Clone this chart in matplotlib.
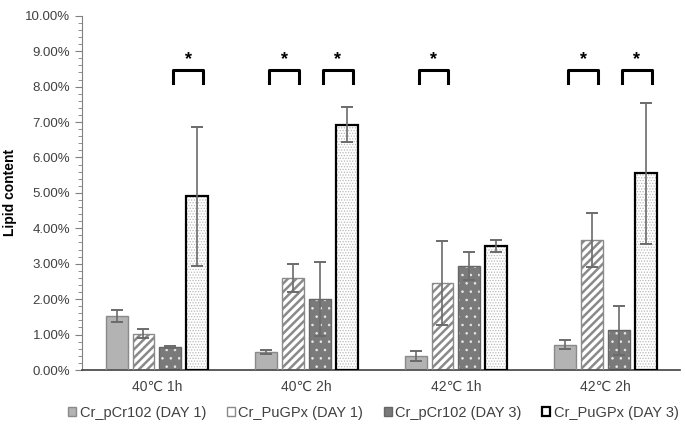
import numpy as np
import matplotlib.pyplot as plt
from matplotlib.ticker import MultipleLocator, FuncFormatter

plt.rcParams['font.family'] = ['Liberation Sans', 'DejaVu Sans']

groups = ["40\u2103 1h", "40\u2103 2h", "42\u2103 1h", "42\u2103 2h"]
series = ["Cr_pCr102 (DAY 1)", "Cr_PuGPx (DAY 1)", "Cr_pCr102 (DAY 3)", "Cr_PuGPx (DAY 3)"]

# lipid content in %
pcr102_d1 = [1.52, 0.50, 0.40, 0.72]
pugpx_d1 = [1.02, 2.60, 2.45, 3.67]
pcr102_d3 = [0.65, 2.00, 2.93, 1.12]
pugpx_d3 = [4.90, 6.93, 3.50, 5.55]

err_pcr102_d1 = [0.17, 0.06, 0.15, 0.12]
err_pugpx_d1 = [0.13, 0.40, 1.18, 0.77]
err_pcr102_d3 = [0.04, 1.05, 0.40, 0.70]
err_pugpx_d3 = [1.95, 0.50, 0.18, 2.00]

# significance brackets: (group, bar a, bar b)
signif = [(0, 2, 3), (1, 0, 1), (1, 2, 3), (2, 0, 1), (3, 0, 1), (3, 2, 3)]

values = [pcr102_d1, pugpx_d1, pcr102_d3, pugpx_d3]
errors = [err_pcr102_d1, err_pugpx_d1, err_pcr102_d3, err_pugpx_d3]

fig = plt.figure(figsize=(6.85, 4.32), dpi=100)
ax = fig.add_axes([0.12, 0.1435, 0.873, 0.82])

x = np.arange(len(groups))
step = 0.18
w = 0.147
offs = (np.arange(4) - 1.5) * step

styles = [
    dict(face="#b3b3b3", hatch=None, hcol="#b3b3b3", hlw=1.0, edge="#8a8a8a", lw=1.0),
    dict(face="white", hatch="////", hcol="#8a8a8a", hlw=1.8, edge="#8a8a8a", lw=1.0),
    dict(face="#7a7a7a", hatch="..", hcol="#e8e8e8", hlw=0.6, edge="#666666", lw=1.0),
    dict(face="white", hatch="......", hcol="#b8b8b8", hlw=0.6, edge="black", lw=1.6),
]

handles = []
for i in range(4):
    s = styles[i]
    pos = x + offs[i]
    with plt.rc_context({"hatch.linewidth": s["hlw"]}):
        ax.bar(pos, values[i], w, color=s["face"], edgecolor=s["hcol"],
               hatch=s["hatch"], linewidth=0, zorder=2)
        ax.bar(pos, values[i], w, facecolor="none", edgecolor=s["edge"],
               linewidth=s["lw"], zorder=3)
        ax.errorbar(pos, values[i], yerr=errors[i], fmt="none", ecolor="#6b6b6b",
                    elinewidth=1.2, capsize=4, capthick=1.4, zorder=4)
        h = plt.Rectangle((0, 0), 1, 1, facecolor=s["face"], edgecolor=s["edge"],
                          linewidth=s["lw"])
    handles.append(h)

for g, a, b in signif:
    xa = x[g] + offs[a] + 0.02
    xb = x[g] + offs[b] + 0.04
    ax.plot([xa, xa, xb, xb], [8.1, 8.47, 8.47, 8.1], color="black", lw=2.2,
            solid_joinstyle="round", zorder=5)
    ax.text((xa + xb) / 2, 8.75, "*", ha="center", va="center", fontsize=13,
            fontweight="bold")

ax.set_xlim(-0.5, 3.5)
ax.set_ylim(0, 10)
ax.yaxis.set_major_locator(MultipleLocator(1))
ax.yaxis.set_minor_locator(MultipleLocator(0.2))
ax.yaxis.set_major_formatter(FuncFormatter(lambda v, p: f"{v:.2f}%"))
ax.set_xticks(x)
ax.set_xticklabels(groups)
ax.tick_params(axis="x", length=0, labelsize=10, labelcolor="#404040", pad=7)
ax.tick_params(axis="y", which="major", length=5, color="#808080", labelsize=9.5,
               labelcolor="#404040", direction="out")
ax.tick_params(axis="y", which="minor", length=3, color="#808080", direction="out")

for sp in ["top", "right"]:
    ax.spines[sp].set_visible(False)
ax.spines["left"].set_color("#808080")
ax.spines["bottom"].set_color("#404040")
ax.spines["bottom"].set_linewidth(1.2)

ax.set_ylabel("Lipid content", fontsize=10, fontweight="bold", labelpad=6)

leg = fig.legend(handles, series, loc="center", bbox_to_anchor=(0.545, 0.044), ncol=4,
                 frameon=False, fontsize=10.5, handlelength=0.55, handleheight=0.55,
                 handletextpad=0.25, columnspacing=1.4)
for t in leg.get_texts():
    t.set_color("#404040")

fig.savefig("out.png", dpi=100)
